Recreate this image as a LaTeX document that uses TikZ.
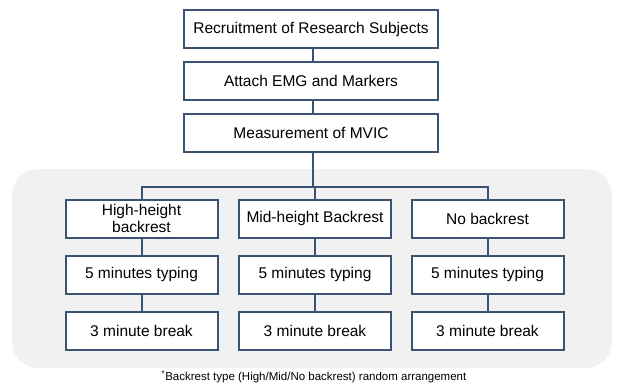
\documentclass[tikz,border=0pt]{standalone}
\usepackage{fontspec}
\setmainfont{Liberation Sans}
\definecolor{frame}{HTML}{3A5373}
\definecolor{panel}{HTML}{F1F1F2}
\begin{document}
\begin{tikzpicture}[x=1pt,y=-1pt,
  stepbox/.style={draw=frame, line width=2pt, fill=white, minimum height=38pt,
    inner sep=2pt, align=center, font=\fontsize{15.5}{16.5}\selectfont},
  wide/.style={stepbox, minimum width=254pt},
  col/.style={stepbox, minimum width=152pt},
  link/.style={draw=frame, line width=2pt}]
\useasboundingbox (0,0) rectangle (617,385);
% shaded panel holding the three backrest conditions
\fill[panel, rounded corners=26pt] (12,169) rectangle (612,368);

% common steps
\node[wide] (recruit) at (311,29.5) {Recruitment of Research Subjects};
\node[wide] (attach)  at (311,81)   {Attach EMG and Markers};
\node[wide] (mvic)    at (311,133)  {Measurement of MVIC};

% backrest conditions
\node[col] (high) at (141.5,218.5) {High-height\\backrest};
\node[col] (mid)  at (315,218.5)   {Mid-height Backrest};
\node[col] (none) at (487.5,218.5) {No backrest};

\node[col] (type1) at (141.5,274.5) {5 minutes typing};
\node[col] (type2) at (315,274.5)   {5 minutes typing};
\node[col] (type3) at (487.5,274.5) {5 minutes typing};

\node[col] (rest1) at (141.5,330.5) {3 minute break};
\node[col] (rest2) at (315,330.5)   {3 minute break};
\node[col] (rest3) at (487.5,330.5) {3 minute break};

% connectors
\coordinate (fork) at (313,187);
\path[link] (recruit.south -| fork) -- (attach.north -| fork);
\path[link] (attach.south -| fork) -- (mvic.north -| fork);
\path[link] (mvic.south -| fork) -- (fork);
\path[link] (high.north) |- (fork) -| (none.north);
\path[link] (mid.north |- fork) -- (mid.north);
\foreach \a/\b/\c in {high/type1/rest1, mid/type2/rest2, none/type3/rest3}{
  \path[link] (\a) -- (\b);
  \path[link] (\b) -- (\c);
}
\node[font=\fontsize{11.5}{12}\selectfont, inner sep=0pt] (note) at (314,377)
  {\textsuperscript{*}Backrest type (High/Mid/No backrest) random arrangement};
\end{tikzpicture}
\end{document}
